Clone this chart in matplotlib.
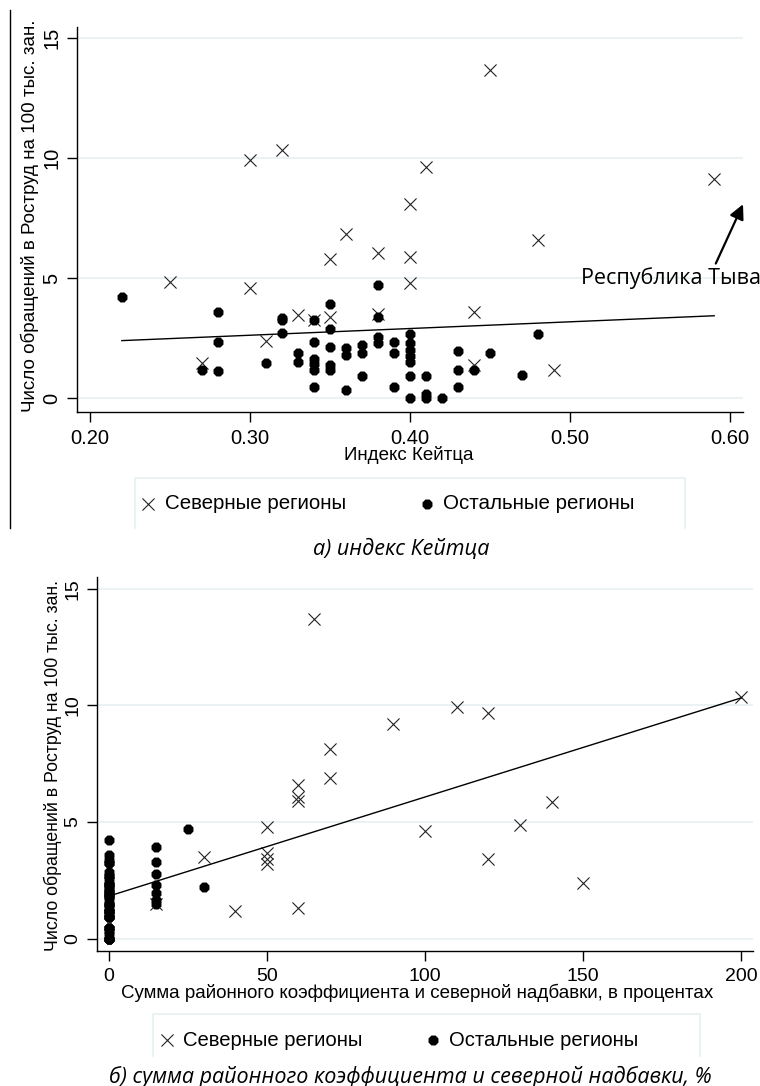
import numpy as np
import matplotlib
matplotlib.use('Agg')
import matplotlib.pyplot as plt
from matplotlib.lines import Line2D

plt.rcParams['font.family'] = ['Liberation Sans', 'DejaVu Sans']

# panel a: Kaitz index vs. complaints to Rostrud per 100k employed
north_kaitz = [0.25, 0.30, 0.30, 0.32, 0.36, 0.35, 0.33, 0.34, 0.35, 0.31, 0.27, 0.38,
               0.38, 0.45, 0.41, 0.40, 0.40, 0.40, 0.59, 0.48, 0.44, 0.44, 0.49]
north_rate_a = [4.85, 9.92, 4.57, 10.33, 6.86, 5.78, 3.46, 3.25, 3.39, 2.39, 1.45, 6.03,
                3.50, 13.69, 9.64, 8.11, 5.89, 4.78, 9.15, 6.58, 3.60, 1.37, 1.17]

other_kaitz = [0.22, 0.27, 0.28, 0.28, 0.28, 0.31, 0.32, 0.32, 0.32, 0.33, 0.33,
               0.34, 0.34, 0.34, 0.34, 0.34, 0.34, 0.35, 0.35, 0.35, 0.35, 0.35,
               0.36, 0.36, 0.36, 0.37, 0.37, 0.37, 0.38, 0.38, 0.38, 0.38,
               0.39, 0.39, 0.39, 0.40, 0.40, 0.40, 0.40, 0.40, 0.40, 0.40,
               0.41, 0.41, 0.41, 0.42, 0.43, 0.43, 0.43, 0.44, 0.45, 0.47, 0.48]
other_rate_a = [4.22, 1.17, 3.57, 2.35, 1.13, 1.47, 3.35, 3.25, 2.72, 1.89, 1.51,
                3.25, 2.35, 1.65, 1.44, 1.17, 0.47, 3.92, 2.86, 2.14, 1.40, 1.17,
                2.07, 1.79, 0.33, 2.21, 1.86, 0.92, 4.71, 3.39, 2.55, 2.28,
                2.32, 1.89, 0.47, 2.67, 2.30, 2.00, 1.75, 1.50, 0.92, 0.00,
                0.92, 0.19, 0.00, 0.00, 1.97, 1.17, 0.47, 1.17, 1.89, 0.96, 2.69]

# panel b: regional coefficient + northern allowance, %
north_allow = [65, 70, 70, 60, 60, 60, 50, 50, 50, 50, 30, 40,
               60, 15, 90, 110, 120, 200, 140, 130, 100, 120, 150]
north_rate_b = [13.70, 8.11, 6.89, 6.60, 6.05, 5.90, 4.79, 3.65, 3.43, 3.22, 3.48, 1.18,
                1.33, 1.50, 9.18, 9.94, 9.66, 10.37, 5.84, 4.86, 4.60, 3.43, 2.40]

other_allow = [0] * 43 + [15] * 7 + [25, 30]
other_rate_b = [4.22, 3.57, 3.39, 3.25, 3.25, 2.86, 2.69, 2.67, 2.55, 2.35, 2.35, 2.32,
                2.28, 2.14, 2.07, 2.00, 1.97, 1.89, 1.86, 1.79, 1.75, 1.51, 1.47, 1.44,
                1.40, 1.17, 1.17, 1.17, 1.17, 1.13, 0.96, 0.92, 0.92, 0.92, 0.47, 0.47,
                0.47, 0.33, 0.19, 0.00, 0.00, 0.00, 0.00,
                3.93, 3.29, 2.76, 2.29, 1.94, 1.65, 1.50,
                4.72, 2.21]

# fitted lines (intercept, slope)
fit_a = (1.78, 2.80)
fit_b = (1.82, 0.0425)

y_ticks = [0, 5, 10, 15]
kaitz_ticks = [0.20, 0.30, 0.40, 0.50, 0.60]
allow_ticks = [0, 50, 100, 150, 200]

ylab = 'Число обращений в Роструд на 100 тыс. зан.'
leg_north = 'Северные регионы'
leg_other = 'Остальные регионы'
grid_col = '#e8f0f2'

W, H = 760, 1086
fig = plt.figure(figsize=(W / 100, H / 100), dpi=100)


def px_axes(l, t, r, b):
    return fig.add_axes([l / W, 1 - b / H, (r - l) / W, (b - t) / H])


def style(ax, fs_tick):
    for s in ['top', 'right']:
        ax.spines[s].set_visible(False)
    for s in ['left', 'bottom']:
        ax.spines[s].set_linewidth(1.0)
    ax.tick_params(axis='both', direction='out', length=7, width=1.0,
                   labelsize=fs_tick)
    ax.tick_params(axis='y', labelrotation=90, pad=4)
    ax.tick_params(axis='x', pad=5)
    for lbl in ax.get_yticklabels():
        lbl.set_va('center')
    ax.yaxis.grid(True, color=grid_col, lw=1.2)
    ax.set_axisbelow(True)


def scatter_pair(ax, xn, yn, xo, yo):
    hn = ax.scatter(xn, yn, marker='x', s=76, c='#222222', linewidths=0.8,
                    zorder=3)
    ho = ax.scatter(xo, yo, marker='8', s=60, c='black', linewidths=0,
                    zorder=3)
    return hn, ho


def legend_box(l, t, r, b):
    fig.add_artist(Line2D([l / W, l / W, r / W, r / W],
                          [1 - b / H, 1 - t / H, 1 - t / H, 1 - b / H],
                          color=grid_col, lw=1.2))


# ---- panel a ----
ax1 = px_axes(77, 27, 743, 412)
hn, ho = scatter_pair(ax1, north_kaitz, north_rate_a, other_kaitz, other_rate_a)
all_k = np.array(north_kaitz + other_kaitz)
xs = np.array([all_k.min(), all_k.max()])
ax1.plot(xs, fit_a[0] + fit_a[1] * xs, color='black', lw=1.0, zorder=4)
ax1.set_xlim(0.192, 0.608)
ax1.set_ylim(-0.58, 15.47)
ax1.set_xticks(kaitz_ticks)
ax1.set_xticklabels(['%.2f' % v for v in kaitz_ticks])
ax1.set_yticks(y_ticks)
style(ax1, 14.5)
ax1.set_xlabel('Индекс Кейтца', fontsize=13.5)
ax1.xaxis.set_label_coords(0.4977, -0.1117)
ax1.xaxis.label.set_va('center')
ax1.set_ylabel(ylab, fontsize=13.5)
ax1.yaxis.set_label_coords(-0.0706, 0.51)
ax1.yaxis.label.set_va('center')

ax1.annotate('', xy=(0.608, 8.08), xytext=(0.591, 5.61),
             arrowprops=dict(arrowstyle='-|>', lw=1.6, color='black',
                             mutation_scale=22, shrinkA=0, shrinkB=0),
             annotation_clip=False)
ax1.text(0.5628, 5.01, 'Республика Тыва', fontsize=15.5, family='Open Sans',
         ha='center', va='center', clip_on=False)

legend_box(135, 478, 685, 528)
fig.legend([hn, ho], [leg_north, leg_other], ncol=2, frameon=False,
           fontsize=14.8, loc='center left',
           bbox_to_anchor=(139 / W, 1 - 504 / H), handlelength=0.9,
           handletextpad=0.35, columnspacing=3.5, borderpad=0, borderaxespad=0)

fig.text(401 / W, 1 - 549 / H, 'а) индекс Кейтца', family='Open Sans',
         style='italic', fontsize=15.5, ha='center', va='center')

fig.add_artist(Line2D([10 / W, 10 / W], [1 - 10 / H, 1 - 528 / H],
                      color='black', lw=1.0))

# ---- panel b ----
ax2 = px_axes(97, 577, 753, 951)
hn2, ho2 = scatter_pair(ax2, north_allow, north_rate_b, other_allow, other_rate_b)
all_a = np.array(north_allow + other_allow)
xs = np.array([all_a.min(), all_a.max()])
ax2.plot(xs, fit_b[0] + fit_b[1] * xs, color='black', lw=1.0, zorder=4)
ax2.set_xlim(-3.7, 203.7)
ax2.set_ylim(-0.53, 15.5)
ax2.set_xticks(allow_ticks)
ax2.set_yticks(y_ticks)
style(ax2, 14)
ax2.set_xlabel('Сумма районного коэффициента и северной надбавки, в процентах',
               fontsize=13.5)
ax2.xaxis.set_label_coords(0.4886, -0.112)
ax2.xaxis.label.set_va('center')
ax2.set_ylabel(ylab, fontsize=12.8)
ax2.yaxis.set_label_coords(-0.068, 0.497)
ax2.yaxis.label.set_va('center')

legend_box(153, 1014, 700, 1056)
fig.legend([hn2, ho2], [leg_north, leg_other], ncol=2, frameon=False,
           fontsize=14.6, loc='center left',
           bbox_to_anchor=(158 / W, 1 - 1040 / H), handlelength=0.9,
           handletextpad=0.35, columnspacing=3.0, borderpad=0, borderaxespad=0)

fig.text(410 / W, 1 - 1077 / H,
         'б) сумма районного коэффициента и северной надбавки, %',
         family='Open Sans', style='italic', fontsize=15.5,
         ha='center', va='center')

fig.savefig('out.png', dpi=100)
